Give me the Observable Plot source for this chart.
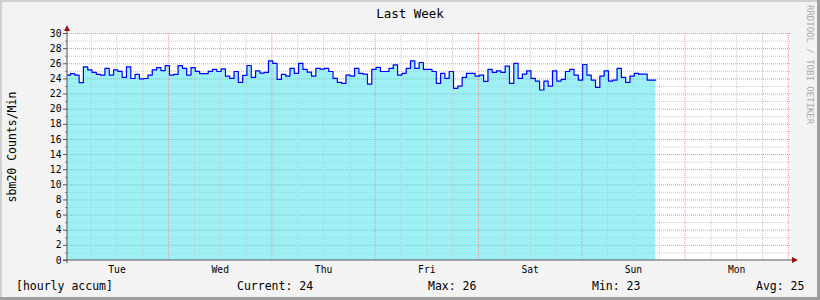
<!DOCTYPE html>
<html>
<head>
<meta charset="utf-8">
<script src="https://cdn.jsdelivr.net/npm/d3@7"></script>
<script src="https://cdn.jsdelivr.net/npm/@observablehq/plot@0.6"></script>
<style>
  html, body { margin: 0; padding: 0; background: #f3f3f3; }
  #chart { width: 820px; height: 300px; }
</style>
</head>
<body>
<div id="chart"></div>
<script>
// ---- data ----
const title = "Last Week";
const yLabel = "sbm20 Counts/Min";
const credit = "RRDTOOL / TOBI OETIKER";
const days = ["Tue", "Wed", "Thu", "Fri", "Sat", "Sun", "Mon"];
const yTicks = [0, 2, 4, 6, 8, 10, 12, 14, 16, 18, 20, 22, 24, 26, 28, 30];
const legendLabels = ["[hourly accum]", "Current: 24", "Max: 26", "Min: 23", "Avg: 25"];
const firstHour = 0.2;            // hours after Tue 00:00 of first sample
const viewHours = [0.5, 168.5];   // visible window (hours after Tue 00:00)
const counts = [
  24.5, 24.7, 24.5, 23.5, 25.6, 25.2, 24.85, 24.6, 24.5, 25.4,
  24.5, 25.2, 25.0, 24.2, 25.6, 24.05, 24.6, 24.0, 24.05, 24.5,
  25.2, 25.5, 25.1, 25.75, 24.5, 24.6, 25.75, 25.4, 24.5, 25.5,
  25.0, 24.7, 24.7, 25.0,
  25.25, 24.98, 25.33, 24.37, 24.06, 24.98, 23.54, 24.46, 25.77, 24.19,
  25.07, 24.76, 24.85, 26.39, 26.04, 23.93, 24.59, 24.37, 25.38, 24.72,
  26.04, 25.25, 24.89, 24.37, 25.38, 25.29, 25.38, 24.98, 24.06, 23.54,
  23.4, 24.5, 24.37, 25.38, 24.72,
  24.63, 23.32, 25.25, 25.51, 24.98, 24.98, 25.38, 25.86, 24.5, 24.72,
  25.38, 26.39, 25.38, 26.17, 25.25, 25.25, 24.98, 23.4, 24.72, 24.06,
  24.98, 22.75, 23.05, 24.19, 24.72, 24.72, 24.37, 24.5, 23.67, 25.25,
  24.85, 25.07, 24.85, 25.68, 23.4,
  26.04, 24.06, 24.63, 25.07, 24.06, 23.71, 22.53, 23.71, 23.05, 25.07,
  23.71, 23.93, 24.98, 25.25, 24.5, 23.84, 25.9, 24.5, 23.84, 22.88,
  24.37, 25.07, 23.71, 23.84, 25.38, 24.19, 23.54, 24.37, 24.72, 24.63,
  24.63, 23.84, 23.84
];

// ---- derived ----
const steps = counts.flatMap((v, i) => [
  {t: firstHour + i, v}, {t: firstHour + i + 1, v}
]);
const midnights = d3.range(1, 8).map(d => d * 24);
const sixHours = d3.range(6, 169, 6).filter(h => h % 24 !== 0);
const noons = days.map((_, i) => i * 24 + 12);
const yMinor = d3.range(1, 31).filter(v => v % 2 === 1);
const yMajor = yTicks.filter(v => v > 0);

const font = "DejaVu Sans Mono, monospace";
const gridGray = "#c8c8c8";
const gridRed = "#f09090";

const plot = Plot.plot({
  width: 820,
  height: 300,
  marginLeft: 67,
  marginRight: 30,
  marginTop: 33,
  marginBottom: 40,
  style: {background: "#f3f3f3", fontFamily: font, fontSize: "9.7px", color: "#000"},
  x: {domain: viewHours, type: "linear"},
  y: {domain: [0, 30]},
  marks: [
    Plot.frame({fill: "white", stroke: null}),
    Plot.areaY(steps, {x: "t", y1: 0, y2: "v", fill: "#9ef0f5", clip: true}),
    Plot.ruleY(yMinor, {stroke: gridGray, strokeDasharray: "1,1"}),
    Plot.ruleY(yMajor, {stroke: gridRed, strokeDasharray: "1,1"}),
    Plot.ruleX(sixHours, {stroke: gridGray, strokeDasharray: "1,1"}),
    Plot.ruleX(midnights, {stroke: gridRed, strokeDasharray: "1,1"}),
    Plot.line(steps, {x: "t", y: "v", stroke: "#0000ff", strokeWidth: 1.2, clip: true}),
    Plot.axisY({ticks: yTicks, tickSize: 4, tickPadding: 2, label: null, stroke: "#555"}),
    Plot.axisY({ticks: yMinor, tickSize: 2, tickFormat: () => "", label: null, stroke: "#888"}),
    Plot.axisX({ticks: noons, tickSize: 0, tickPadding: 6, label: null,
      tickFormat: (d) => days[noons.indexOf(d)]})
  ]
});
document.getElementById("chart").appendChild(plot);

// ---- decorations: axes lines, arrows, border, texts ----
const svg = d3.select(plot);
const xs = plot.scale("x"), ys = plot.scale("y");
const x0 = xs.apply(viewHours[0]), x1 = xs.apply(viewHours[1]);
const y0 = ys.apply(0), yTop = ys.apply(30);

svg.append("line").attr("x1", x0 - 4).attr("x2", x1 + 3).attr("y1", y0).attr("y2", y0)
  .attr("stroke", "#555");
svg.append("line").attr("x1", x0).attr("x2", x0).attr("y1", y0 + 3).attr("y2", yTop - 4)
  .attr("stroke", "#555");
svg.append("path")
  .attr("d", `M${x0},${yTop - 8}L${x0 - 3},${yTop - 2}L${x0 + 3},${yTop - 2}Z`)
  .attr("fill", "#a01010");
svg.append("path")
  .attr("d", `M${x1 + 8},${y0}L${x1 + 2},${y0 - 3}L${x1 + 2},${y0 + 3}Z`)
  .attr("fill", "#a01010");

// border
svg.append("rect").attr("x", 0).attr("y", 0).attr("width", 820).attr("height", 2).attr("fill", "#d0d0d0");
svg.append("rect").attr("x", 0).attr("y", 0).attr("width", 2).attr("height", 300).attr("fill", "#d0d0d0");
svg.append("rect").attr("x", 0).attr("y", 297).attr("width", 820).attr("height", 3).attr("fill", "#9e9e9e");
svg.append("rect").attr("x", 817).attr("y", 0).attr("width", 3).attr("height", 300).attr("fill", "#9e9e9e");

// title
svg.append("text").attr("x", 410).attr("y", 18).attr("text-anchor", "middle")
  .attr("font-family", font).attr("font-size", "12.5px").attr("fill", "#000").text(title);

// y label
svg.append("text").attr("transform", "translate(16,147) rotate(-90)")
  .attr("text-anchor", "middle").attr("font-family", font).attr("font-size", "11.5px")
  .attr("fill", "#000").text(yLabel);

// credit
svg.append("text").attr("transform", "translate(807,5) rotate(90)")
  .attr("text-anchor", "start").attr("font-family", font).attr("font-size", "9px")
  .attr("fill", "#aaaaaa").text(credit);

// legend row
const legendX = [16, 237, 428, 592, 756];
legendLabels.forEach((s, i) => {
  svg.append("text").attr("x", legendX[i]).attr("y", 290).attr("text-anchor", "start")
    .attr("font-family", font).attr("font-size", "11.5px").attr("fill", "#000")
    .text(s);
});
</script>
</body>
</html>
